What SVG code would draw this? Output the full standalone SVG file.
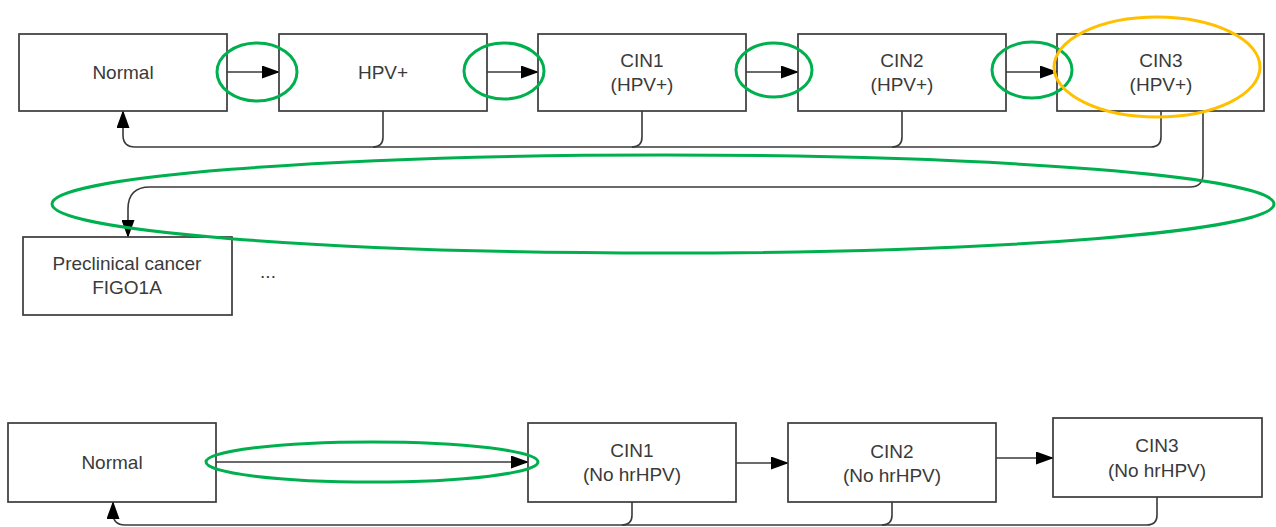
<svg xmlns="http://www.w3.org/2000/svg" width="1276" height="527" viewBox="0 0 1276 527">
<defs>
<style>
.box{fill:#fff;stroke:#3a3a3a;stroke-width:1.7}
.t{font-family:"Liberation Sans",Arial,sans-serif;font-size:19px;fill:#3a3a3a;text-anchor:middle}
.c{fill:none;stroke:#3a3a3a;stroke-width:1.6}
.g{fill:none;stroke:#00b04f;stroke-width:3}
.o{fill:none;stroke:#ffc000;stroke-width:3}
</style>
<marker id="ah" markerUnits="userSpaceOnUse" markerWidth="18" markerHeight="13" refX="17" refY="6.5" orient="auto">
<path d="M0,0 L18,6.5 L0,13 z" fill="#000"/>
</marker>
</defs>
<rect width="1276" height="527" fill="#fff"/>
<g id="connectors">
<path class="c" d="M227,72 H279" marker-end="url(#ah)"/>
<path class="c" d="M487,72 H538" marker-end="url(#ah)"/>
<path class="c" d="M746,72 H798" marker-end="url(#ah)"/>
<path class="c" d="M1006,72 H1057" marker-end="url(#ah)"/>
<path class="c" d="M1161,111 V137 Q1161,147 1151,147 H135 Q123,147 123,135 V111" marker-end="url(#ah)"/>
<path class="c" d="M383,111 V137 Q383,147 373,147"/>
<path class="c" d="M642,111 V137 Q642,147 632,147"/>
<path class="c" d="M902,111 V137 Q902,147 892,147"/>
<path class="c" d="M1203,111 V174 Q1203,187 1190,187 H150 Q128,187 128,209 V237" marker-end="url(#ah)"/>
<path class="c" d="M216,462 H528" marker-end="url(#ah)"/>
<path class="c" d="M736,463 H788" marker-end="url(#ah)"/>
<path class="c" d="M996,458 H1053" marker-end="url(#ah)"/>
<path class="c" d="M1157,497 V515 Q1157,525 1147,525 H125 Q113,525 113,513 V502" marker-end="url(#ah)"/>
<path class="c" d="M632,502 V515 Q632,525 622,525"/>
<path class="c" d="M892,502 V515 Q892,525 882,525"/>
</g>
<g id="normal1"><rect class="box" x="19" y="34" width="208" height="77"/><text class="t" x="123" y="79">Normal</text></g>
<g id="hpv"><rect class="box" x="279" y="34" width="208" height="77"/><text class="t" x="383" y="79">HPV+</text></g>
<g id="cin1"><rect class="box" x="538" y="34" width="208" height="77"/><text class="t" x="642" y="67">CIN1</text><text class="t" x="642" y="91">(HPV+)</text></g>
<g id="cin2"><rect class="box" x="798" y="34" width="208" height="77"/><text class="t" x="902" y="67">CIN2</text><text class="t" x="902" y="91">(HPV+)</text></g>
<g id="cin3"><rect class="box" x="1057" y="34" width="207" height="77"/><text class="t" x="1161" y="67">CIN3</text><text class="t" x="1161" y="91">(HPV+)</text></g>
<g id="preclinical"><rect class="box" x="23" y="237" width="209" height="78"/><text class="t" x="127" y="270">Preclinical cancer</text><text class="t" x="127" y="294">FIGO1A</text></g>
<g id="ellipsis"><text class="t" x="268" y="278">...</text></g>
<g id="normal2"><rect class="box" x="8" y="423" width="208" height="79"/><text class="t" x="112" y="469">Normal</text></g>
<g id="cin1b"><rect class="box" x="528" y="423" width="208" height="79"/><text class="t" x="632" y="457">CIN1</text><text class="t" x="632" y="481">(No hrHPV)</text></g>
<g id="cin2b"><rect class="box" x="788" y="423" width="208" height="79"/><text class="t" x="892" y="458">CIN2</text><text class="t" x="892" y="482">(No hrHPV)</text></g>
<g id="cin3b"><rect class="box" x="1053" y="418" width="209" height="79"/><text class="t" x="1157" y="452">CIN3</text><text class="t" x="1157" y="477">(No hrHPV)</text></g>
<g id="highlights">
<ellipse class="g" cx="257" cy="72" rx="40" ry="29"/>
<ellipse class="g" cx="504" cy="71" rx="40" ry="28"/>
<ellipse class="g" cx="774" cy="70" rx="38" ry="27"/>
<ellipse class="g" cx="1032" cy="70" rx="40" ry="28"/>
<ellipse class="o" cx="1157" cy="67" rx="103" ry="50"/>
<ellipse class="g" cx="663" cy="204" rx="611" ry="49"/>
<ellipse class="g" cx="372" cy="462" rx="166" ry="20"/>
</g>
</svg>
